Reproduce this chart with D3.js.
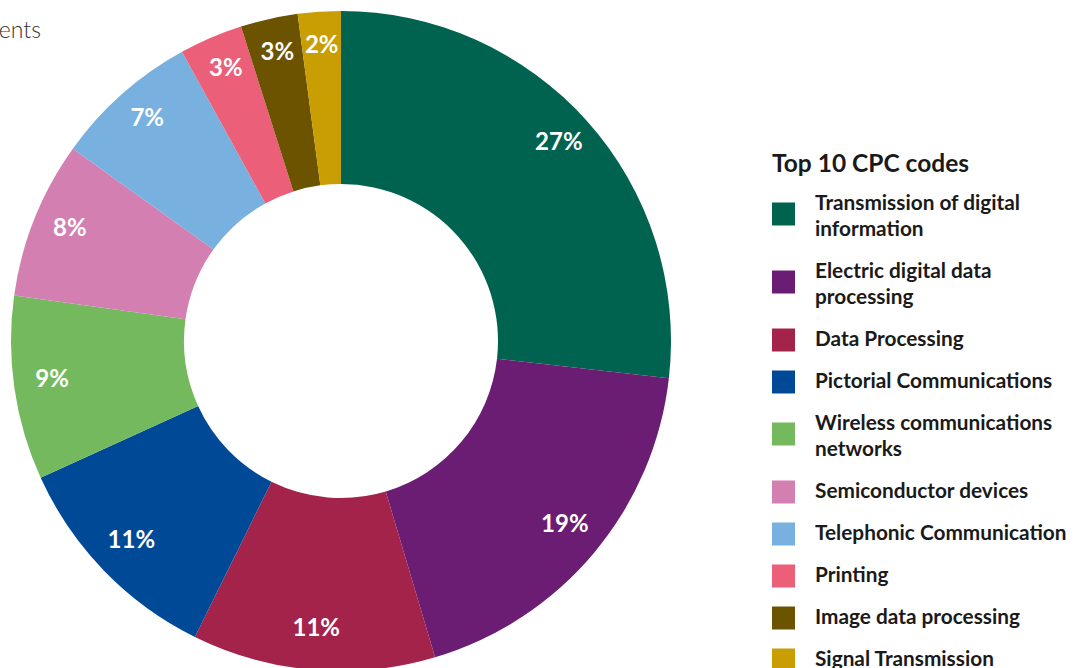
<!DOCTYPE html>
<html>
<head>
<meta charset="utf-8">
<script src="https://cdn.jsdelivr.net/npm/d3@7"></script>
<style>
  body { margin: 0; background: #fff; }
  svg { display: block; font-family: Lato, "Noto Sans", sans-serif; }
</style>
</head>
<body>
<div id="chart"></div>
<script>
'use strict';

// top 10 CPC codes, share of the slice
var categories = [
  'Transmission of digital information',
  'Electric digital data processing',
  'Data Processing',
  'Pictorial Communications',
  'Wireless communications networks',
  'Semiconductor devices',
  'Telephonic Communication',
  'Printing',
  'Image data processing',
  'Signal Transmission'
];
var shares = [26.8, 18.6, 11.9, 10.9, 9.0, 7.7, 7.1, 3.1, 2.8, 2.1];
// labels as printed on the chart
var pctLabels = ['27%', '19%', '11%', '11%', '9%', '8%', '7%', '3%', '3%', '2%'];
var colors = ['#00634f', '#6a1d72', '#a3234a', '#004996', '#74b95e',
              '#d47fb2', '#78b0e0', '#eb5f79', '#6b5300', '#c89e03'];

var width = 1081;
var height = 668;
var cx = 341, cy = 341;
var outerR = 330, innerR = 157, labelR = 292;

var svg = d3.select('#chart').append('svg')
  .attr('width', width)
  .attr('height', height);

// title, mostly off to the left
svg.append('text')
  .attr('x', 41)
  .attr('y', 38)
  .attr('text-anchor', 'end')
  .attr('fill', '#333')
  .style('font-size', '23px')
  .style('font-weight', 300)
  .text('ents');

var data = categories.map(function(c, i){
  return {name: c, value: shares[i], label: pctLabels[i], color: colors[i]};
});

var pie = d3.pie()
  .sort(null)
  .value(function(d){ return d.value; });

var arc = d3.arc()
  .innerRadius(innerR)
  .outerRadius(outerR);

var labelArc = d3.arc()
  .innerRadius(labelR)
  .outerRadius(labelR);

var g = svg.append('g')
  .attr('transform', 'translate(' + cx + ',' + cy + ')');

var arcs = pie(data);

g.selectAll('path')
    .data(arcs)
  .enter().append('path')
    .attr('d', arc)
    .attr('fill', function(d){ return d.data.color; });

// baseline sits close to the label radius
g.selectAll('.pct')
    .data(arcs)
  .enter().append('text')
    .attr('class', 'pct')
    .attr('transform', function(d){ return 'translate(' + labelArc.centroid(d) + ')'; })
    .attr('text-anchor', 'middle')
    .attr('dy', '0.15em')
    .attr('fill', '#fff')
    .style('font-size', '24px')
    .style('font-weight', 700)
    .text(function(d){ return d.data.label; });

// legend
var legend = svg.append('g')
  .attr('transform', 'translate(772,0)');

legend.append('text')
  .attr('x', 0)
  .attr('y', 172)
  .attr('fill', '#1a1a1a')
  .style('font-size', '24.5px')
  .style('font-weight', 700)
  .text('Top 10 CPC codes');

var lineH = 26, gap = 16, wrapW = 270;
var y = 203; // center of first text line

data.forEach(function(d){
  var item = legend.append('g');
  var t = item.append('text')
    .attr('x', 43)
    .attr('fill', '#1a1a1a')
    .style('font-size', '20.8px')
    .style('font-weight', 700);

  // simple word wrap
  var words = d.name.split(' ');
  var lines = [];
  var line = [];
  var ts = t.append('tspan');
  words.forEach(function(w){
    line.push(w);
    ts.text(line.join(' '));
    if (ts.node().getComputedTextLength() > wrapW && line.length > 1) {
      line.pop();
      lines.push(line.join(' '));
      line = [w];
    }
  });
  lines.push(line.join(' '));
  ts.remove();

  lines.forEach(function(l, i){
    t.append('tspan')
      .attr('x', 43)
      .attr('y', y + i * lineH)
      .attr('dy', '0.35em')
      .text(l);
  });

  var mid = y + (lines.length - 1) * lineH / 2;
  item.append('rect')
    .attr('x', 0)
    .attr('y', mid - 11.5 + (lines.length > 1 ? -2 : 1))
    .attr('width', 23)
    .attr('height', 23)
    .attr('fill', d.color);

  y += lines.length * lineH + gap;
});
</script>
</body>
</html>
